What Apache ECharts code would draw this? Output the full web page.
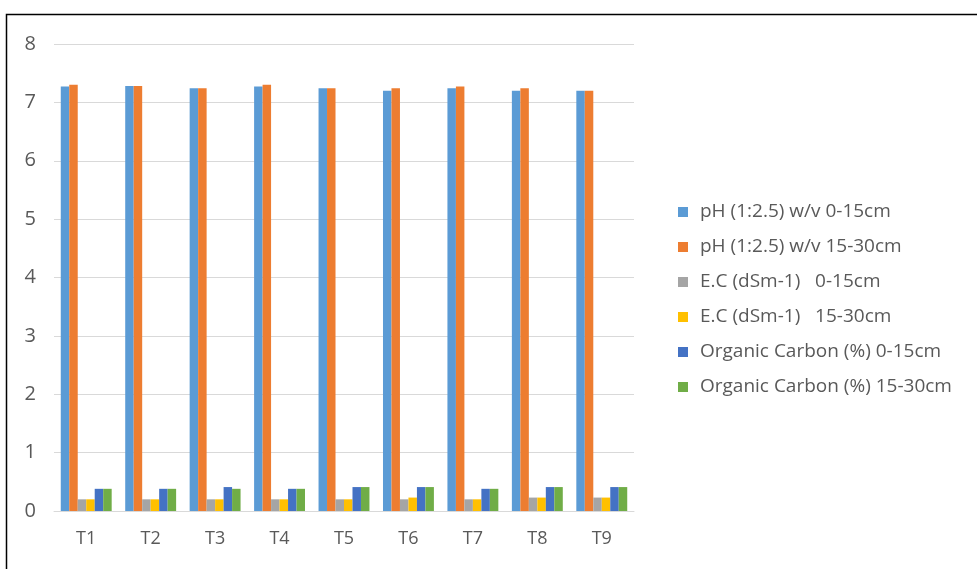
<!DOCTYPE html>
<html>
<head>
<meta charset="utf-8">
<script src="https://cdn.jsdelivr.net/npm/echarts@6/dist/echarts.min.js"></script>
<style>
  html, body { margin: 0; padding: 0; background: #fff; }
  #chart { width: 977px; height: 569px; }
</style>
</head>
<body>
<div id="chart"></div>
<script>
// Treatments on the x axis
const categories = ['T1', 'T2', 'T3', 'T4', 'T5', 'T6', 'T7', 'T8', 'T9'];

// Soil properties at two depths
const phTop    = [7.27, 7.28, 7.24, 7.27, 7.24, 7.20, 7.24, 7.20, 7.20];
const phSub    = [7.30, 7.28, 7.24, 7.30, 7.24, 7.24, 7.27, 7.24, 7.20];
const ecTop    = [0.20, 0.20, 0.20, 0.20, 0.20, 0.20, 0.20, 0.23, 0.23];
const ecSub    = [0.20, 0.20, 0.20, 0.20, 0.20, 0.23, 0.20, 0.23, 0.23];
const ocTop    = [0.38, 0.38, 0.41, 0.38, 0.41, 0.41, 0.38, 0.41, 0.41];
const ocSub    = [0.38, 0.38, 0.38, 0.38, 0.41, 0.41, 0.38, 0.41, 0.41];

const seriesNames = [
  'pH (1:2.5) w/v 0-15cm',
  'pH (1:2.5) w/v 15-30cm',
  'E.C (dSm-1)   0-15cm',
  'E.C (dSm-1)   15-30cm',
  'Organic Carbon (%) 0-15cm',
  'Organic Carbon (%) 15-30cm'
];
const yTicks = [0, 8, 1]; // min, max, step

const seriesData = [phTop, phSub, ecTop, ecSub, ocTop, ocSub];
const palette = ['#5B9BD5', '#ED7D31', '#A5A5A5', '#FFC000', '#4472C4', '#70AD47'];
const font = '"Open Sans", "Noto Sans", sans-serif';

const chart = echarts.init(document.getElementById('chart'));
chart.setOption({
  animation: false,
  backgroundColor: '#ffffff',
  color: palette,
  grid: { left: 54, right: 343, top: 44, bottom: 58, containLabel: false },
  graphic: [{
    type: 'rect',
    shape: { x: 6.5, y: 14.5, width: 1000, height: 600 },
    style: { fill: 'none', stroke: '#000', lineWidth: 1.5 },
    silent: true
  }],
  legend: {
    orient: 'vertical',
    left: 673,
    top: 195,
    itemWidth: 10,
    itemHeight: 10,
    itemGap: 11,
    icon: 'rect',
    textStyle: { fontFamily: font, fontSize: 19, color: '#595959', lineHeight: 24, padding: [0, 0, 0, 7] },
    data: seriesNames
  },
  xAxis: {
    type: 'category',
    data: categories,
    axisLine: { lineStyle: { color: '#D9D9D9', width: 1 } },
    axisTick: { show: false },
    axisLabel: { fontFamily: font, fontSize: 18, color: '#595959', margin: 19 }
  },
  yAxis: {
    type: 'value',
    min: yTicks[0],
    max: yTicks[1],
    interval: yTicks[2],
    axisLine: { show: false },
    axisTick: { show: false },
    splitLine: { lineStyle: { color: '#D9D9D9', width: 1 } },
    axisLabel: { fontFamily: font, fontSize: 20, color: '#595959', margin: 18 }
  },
  series: seriesData.map((d, i) => ({
    name: seriesNames[i],
    type: 'bar',
    data: d,
    barGap: '0%',
    barCategoryGap: '21%'
  }))
});
</script>
</body>
</html>
